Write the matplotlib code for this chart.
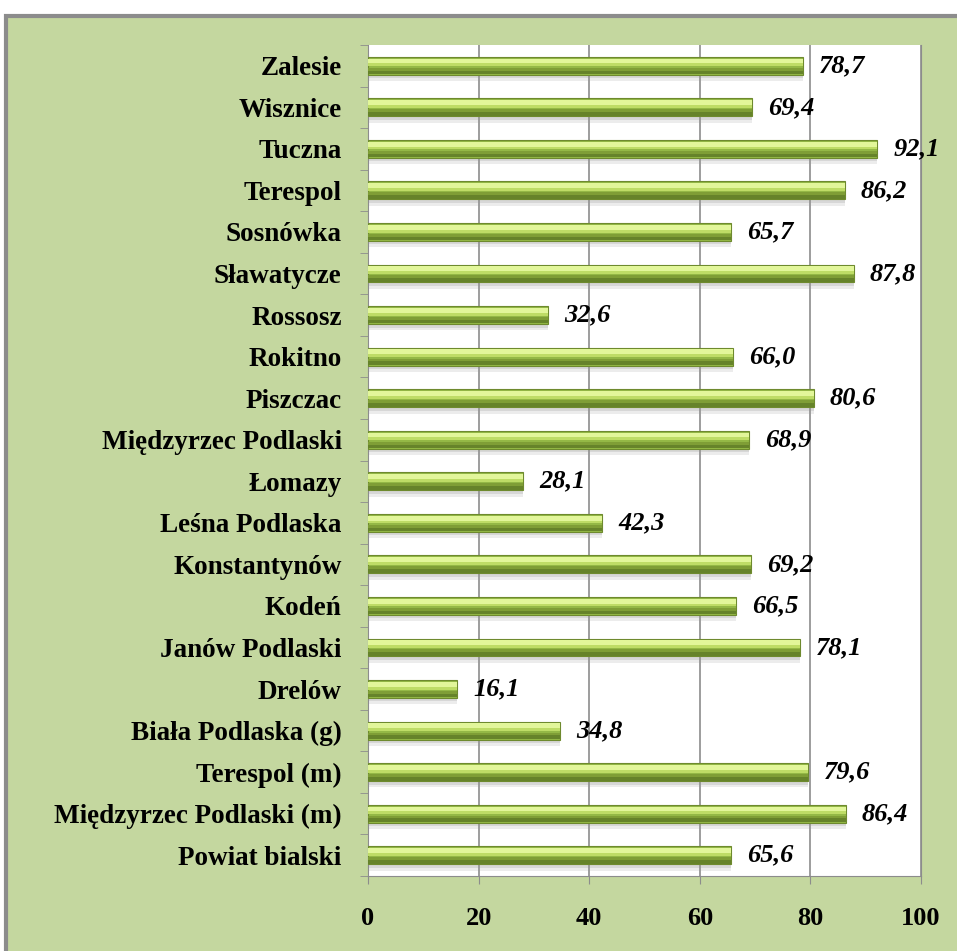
import matplotlib.pyplot as plt
from matplotlib.patches import Rectangle
import numpy as np

# data (bottom to top as drawn)
categories = ["Powiat bialski", "Międzyrzec Podlaski (m)", "Terespol (m)",
              "Biała Podlaska (g)", "Drelów", "Janów Podlaski", "Kodeń",
              "Konstantynów", "Leśna Podlaska", "Łomazy", "Międzyrzec Podlaski",
              "Piszczac", "Rokitno", "Rossosz", "Sławatycze", "Sosnówka",
              "Terespol", "Tuczna", "Wisznice", "Zalesie"]
values = [65.6, 86.4, 79.6, 34.8, 16.1, 78.1, 66.5, 69.2, 42.3, 28.1, 68.9,
          80.6, 66.0, 32.6, 87.8, 65.7, 86.2, 92.1, 69.4, 78.7]
xticks = [0, 20, 40, 60, 80, 100]

bg = "#C4D79F"
grey = "#8C8C8C"
font = "Liberation Serif"

fig = plt.figure(figsize=(9.57, 9.51), dpi=100)
fig.patch.set_facecolor("white")

# green frame with gray border
fig.patches.append(Rectangle((6 / 957, -0.01), 1.0, 1 - 16 / 951 + 0.01,
                             transform=fig.transFigure, facecolor=bg,
                             edgecolor=grey, linewidth=3, zorder=-5))

ax = fig.add_axes([368 / 957, 1 - 876 / 951, (921 - 368) / 957, (876 - 45) / 951])
ax.set_zorder(1)
ax.set_facecolor("white")

y = np.arange(len(categories))
h = 0.43

# soft shadow below the bars
ax.barh(y - 0.26, values, height=0.22, color="#9a9a9a", alpha=0.18, linewidth=0, zorder=2)
ax.barh(y - 0.24, values, height=0.12, color="#9a9a9a", alpha=0.25, linewidth=0, zorder=2)

# bar body with a vertical gradient made of strips
ax.barh(y, values, height=h, color="#94B846", edgecolor="#6E8A2E", linewidth=0.8, zorder=3)
ax.barh(y + h * 0.26, values, height=h * 0.28, color="#E2F69A", linewidth=0, zorder=4)
ax.barh(y + h * 0.05, values, height=h * 0.16, color="#BEDC66", linewidth=0, zorder=4)
ax.barh(y - h * 0.19, values, height=h * 0.16, color="#7F9E36", linewidth=0, zorder=4)
ax.barh(y - h * 0.37, values, height=h * 0.2, color="#66832A", linewidth=0, zorder=4)

for yi, v in zip(y, values):
    ax.text(v + 2.9, yi, f"{v:.1f}".replace(".", ","), va="center", ha="left",
            fontsize=19, fontweight="bold", fontstyle="italic",
            family=font, zorder=5, clip_on=False)

ax.set_xlim(0, 100)
ax.set_ylim(-0.5, len(categories) - 0.5)
ax.set_xticks(xticks)
ax.set_xticklabels([str(t) for t in xticks], fontsize=19, fontweight="bold", family=font)
ax.set_yticks(y)
ax.set_yticklabels(categories, fontsize=19.5, fontweight="bold", family=font)
ax.tick_params(axis="y", length=0, pad=19)
ax.tick_params(axis="x", length=6, color=grey, pad=16)
ax.set_yticks(np.arange(-0.5, len(categories), 1), minor=True)
ax.tick_params(axis="y", which="minor", length=6, color=grey, direction="out")
ax.grid(axis="x", color=grey, linewidth=1.2, zorder=1)
ax.set_axisbelow(True)
ax.spines["top"].set_visible(False)
ax.spines["right"].set_color(grey)
ax.spines["left"].set_color(grey)
ax.spines["bottom"].set_color(grey)

fig.savefig("out.png", dpi=100, facecolor=fig.get_facecolor())
